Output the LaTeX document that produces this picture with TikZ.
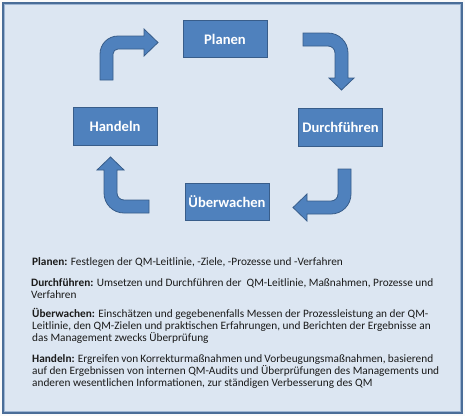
\documentclass[tikz,border=0pt]{standalone}
\usepackage{fontspec}
\setmainfont{Carlito}
\definecolor{bgblue}{HTML}{DCE6F2}
\definecolor{frameblue}{HTML}{4A6D98}
\definecolor{frameinner}{HTML}{9DB5D3}
\definecolor{boxfill}{HTML}{4F81BD}
\definecolor{boxline}{HTML}{385D8A}
\definecolor{txt}{HTML}{1A1A1A}
\begin{document}
\begin{tikzpicture}[x=1pt,y=-1pt,
  stagebox/.style={draw=boxline,line width=0.9pt,fill=boxfill,minimum width=84pt,minimum height=37.5pt,
    inner sep=0pt,text=white,font=\fontsize{14.6}{16}\selectfont\bfseries},
  blockarrow/.style={draw=boxline,line width=0.8pt,fill=boxfill},
  desc/.style={anchor=base west,inner sep=0pt,text=txt,font=\fontsize{11.3}{13}\selectfont}]
\useasboundingbox (0,0) rectangle (465,416);
\fill[white!96!gray] (0,0) rectangle (465,416);
\draw[frameblue,line width=1.6pt,fill=bgblue] (2.8,2.8) rectangle (462.2,413.2);
\draw[frameinner,line width=0.6pt] (4.4,4.4) rectangle (460.6,411.6);
% stages
\node[stagebox] (planen) at (225,39) {Planen};
\node[stagebox] (durch) at (340.5,127.5) {Durchführen};
\node[stagebox] (ueber) at (227,202) {Überwachen};
\node[stagebox] (handeln) at (115,126.5) {Handeln};
% bent block arrows
\draw[blockarrow] (100,80) -- (100,54) .. controls (100,44.06) and (108.06,36) .. (118,36) -- (144,36)
  -- (144,29) -- (158,42.5) -- (144,56) -- (144,49) -- (118,49)
  .. controls (115.24,49) and (113,51.24) .. (113,54) -- (113,80) -- cycle;
\draw[blockarrow] (303,33) -- (328,33) .. controls (339.05,33) and (348,41.95) .. (348,53) -- (348,78)
  -- (354,78) -- (341.5,90) -- (329,78) -- (335,78) -- (335,53)
  .. controls (335,49.13) and (331.87,46) .. (328,46) -- (303,46) -- cycle;
\draw[blockarrow] (338,169) -- (351,169) -- (351,194) .. controls (351,205.05) and (342.05,214) .. (331,214)
  -- (307,214) -- (307,221) -- (293,207.5) -- (307,194) -- (307,201) -- (331,201)
  .. controls (334.87,201) and (338,197.87) .. (338,194) -- cycle;
\draw[blockarrow] (149,213) -- (124,213) .. controls (112.95,213) and (104,204.05) .. (104,193) -- (104,170)
  -- (97,170) -- (110.5,157) -- (124,170) -- (117,170) -- (117,193)
  .. controls (117,196.87) and (120.13,200) .. (124,200) -- (149,200) -- cycle;
% descriptions
\node[desc] (p1) at (32,265.5) {\textbf{Planen:} Festlegen der QM-Leitlinie, -Ziele, -Prozesse und -Verfahren};
\node[desc] (d1) at (31,286) {\textbf{Durchführen:} Umsetzen und Durchführen der\ \ QM-Leitlinie, Maßnahmen, Prozesse und};
\node[desc] (d2) at (31,298) {Verfahren};
\node[desc] (u1) at (32,317.5) {\textbf{Überwachen:} Einschätzen und gegebenenfalls Messen der Prozessleistung an der QM-};
\node[desc] (u2) at (32,329.5) {Leitlinie, den QM-Zielen und praktischen Erfahrungen, und Berichten der Ergebnisse an};
\node[desc] (u3) at (32,341.5) {das Management zwecks Überprüfung};
\node[desc] (h1) at (32,362) {\makebox[401pt][s]{\textbf{Handeln:} Ergreifen von Korrekturmaßnahmen und Vorbeugungsmaßnahmen, basierend}};
\node[desc] (h2) at (32,374) {\makebox[407pt][s]{auf den Ergebnissen von internen QM-Audits und Überprüfungen des Managements und}};
\node[desc] (h3) at (32,386) {anderen wesentlichen Informationen, zur ständigen Verbesserung des QM};
\end{tikzpicture}
\end{document}
